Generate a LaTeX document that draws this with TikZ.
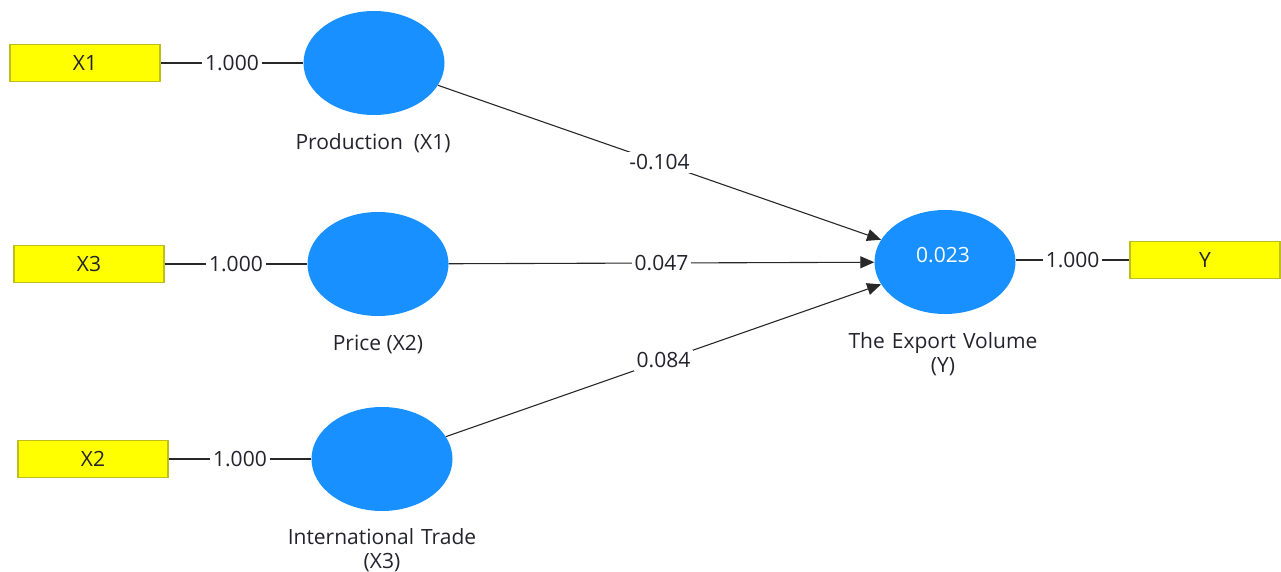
\documentclass[tikz,border=0pt]{standalone}
\usepackage{fontspec}
\setmainfont{Open Sans}
\usetikzlibrary{shapes.geometric,arrows.meta}
\definecolor{lvblue}{RGB}{24,144,255}
\definecolor{indyel}{RGB}{255,255,0}
\definecolor{indbrd}{RGB}{190,190,30}
\definecolor{txt}{RGB}{35,35,45}
\definecolor{edge}{RGB}{40,40,40}
\tikzset{
  every node/.style={font=\fontsize{21}{24}\selectfont, text=txt},
  indbox/.style={draw=indbrd, fill=indyel, line width=1.2pt, minimum width=150pt, minimum height=37pt, inner sep=0pt},
  latent/.style={ellipse, fill=lvblue, draw=none, minimum width=141pt, minimum height=104pt, inner sep=0pt},
  lvname/.style={align=center, inner sep=0pt},
  lbl/.style={fill=white, inner sep=3pt},
  link/.style={draw=edge, line width=1.1pt},
  path/.style={draw=edge, line width=1.1pt, -{Triangle[length=14pt,width=12pt]}}
}
\begin{document}
\begin{tikzpicture}[x=1pt,y=-1pt]
\useasboundingbox (0,0) rectangle (1281,572);
% indicator boxes
\node[indbox] (bx1) at (85,63) {X1};
\node[indbox] (bx3) at (89,264) {X3};
\node[indbox] (bx2) at (93,459) {X2};
\node[indbox] (by) at (1205,260) {Y};
% latent variables
\node[latent] (prod) at (374,63) {};
\node[latent] (price) at (378,264) {};
\node[latent] (trade) at (382,459) {};
\node[latent] (exp) at (945,262) {};
\node[text=white] (r2) at (943,255) {0.023};
\node[lvname] (nprod) at (373,143) {Production\ \ (X1)};
\node[lvname] (nprice) at (378,344) {Price (X2)};
\node[lvname, text width=260pt] (ntrade) at (382,550) {International Trade\\(X3)};
\node[lvname, text width=260pt] (nexp) at (943,354) {The Export Volume\\(Y)};
% outer loadings
\draw[link] (bx1) -- node[lbl] {1.000} (prod);
\draw[link] (bx3) -- node[lbl] {1.000} (price);
\draw[link] (bx2) -- node[lbl] {1.000} (trade);
\draw[link] (exp.east |- by) -- node[lbl] {1.000} (by);
% paths
\draw[path] (prod) -- node[lbl] {-0.104} (exp);
\draw[path] (price) -- node[lbl] {0.047} (exp);
\draw[path] (trade) -- node[lbl] {0.084} (exp);
\end{tikzpicture}
\end{document}
